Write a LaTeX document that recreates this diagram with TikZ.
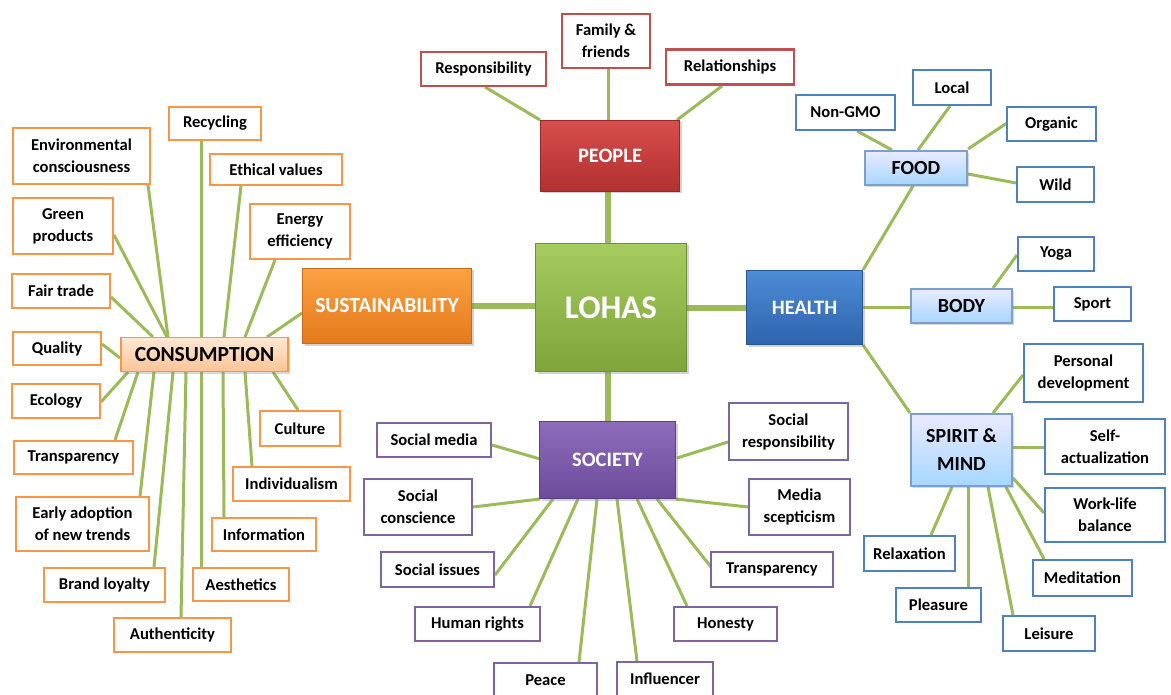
\documentclass[tikz,border=0pt]{standalone}
\usepackage{fontspec}
\setmainfont{Carlito}
\usetikzlibrary{backgrounds,shadows}

\definecolor{twiggreen}{HTML}{9BBB59}
\definecolor{leaforange}{HTML}{F79646}
\definecolor{leafred}{HTML}{C0504D}
\definecolor{leafpurple}{HTML}{8064A2}
\definecolor{leafblue}{HTML}{4F81BD}

\tikzset{
	leaf/.style={draw, line width=2.8pt, fill=white, text=black, align=center,
		inner sep=2pt, font=\fontsize{16.6}{22}\selectfont\bfseries},
	leafO/.style={leaf, draw=leaforange},
	leafR/.style={leaf, draw=leafred},
	leafP/.style={leaf, draw=leafpurple},
	leafB/.style={leaf, draw=leafblue},
	hub/.style={draw, line width=0.6pt, align=center, text=white,
		font=\fontsize{20.5}{24}\selectfont\bfseries,
		drop shadow={opacity=0.35, shadow xshift=2pt, shadow yshift=-2pt}},
	subhub/.style={draw, line width=1.2pt, align=center, text=black,
		font=\fontsize{20}{28}\selectfont\bfseries,
		drop shadow={opacity=0.3, shadow xshift=2pt, shadow yshift=-2pt}},
	bluehub/.style={subhub, draw=leafblue!75, top color=blue!8, bottom color=blue!45!cyan!35},
	twigline/.style={twiggreen, line width=3pt},
	trunkline/.style={twiggreen, line width=6pt}
}
\newcommand{\twig}[4]{\draw[twigline] ([shift={(#2)}]#1.center) -- ([shift={(#4)}]#3.center);}
\newcommand{\trunk}[4]{\draw[trunkline] ([shift={(#2)}]#1.center) -- ([shift={(#4)}]#3.center);}

\begin{document}
\begin{tikzpicture}[x=1pt,y=-1pt]
	\useasboundingbox (0,0) rectangle (1171,695);
	%Centre and main branches
	\node[hub, top color={rgb,255:red,166;green,204;blue,96}, bottom color={rgb,255:red,126;green,164;blue,58},
		draw={rgb,255:red,112;green,146;blue,52}, minimum width=151, minimum height=128,
		font=\fontsize{33}{36}\selectfont\bfseries] (lohas) at (611,307.5) {LOHAS};
	\node[hub, top color={rgb,255:red,214;green,78;blue,76}, bottom color={rgb,255:red,178;green,48;blue,48},
		draw={rgb,255:red,150;green,40;blue,40}, minimum width=139, minimum height=71] (people) at (610,156) {PEOPLE};
	\node[hub, top color={rgb,255:red,142;green,108;blue,188}, bottom color={rgb,255:red,108;green,76;blue,154},
		draw={rgb,255:red,92;green,64;blue,132}, minimum width=136, minimum height=77] (society) at (607.5,460) {SOCIETY};
	\node[hub, top color={rgb,255:red,252;green,162;blue,66}, bottom color={rgb,255:red,228;green,122;blue,28},
		draw={rgb,255:red,200;green,106;blue,24}, minimum width=169, minimum height=75,
		font=\fontsize{21.5}{24}\selectfont\bfseries] (sustain) at (387,306) {SUSTAINABILITY};
	\node[hub, top color={rgb,255:red,78;green,140;blue,214}, bottom color={rgb,255:red,46;green,100;blue,172},
		draw={rgb,255:red,40;green,86;blue,148}, minimum width=116, minimum height=74] (health) at (804.5,307.5) {HEALTH};
	%Second level
	\node[subhub, draw=leaforange, top color={rgb,255:red,254;green,232;blue,212}, bottom color={rgb,255:red,251;green,196;blue,150},
		minimum width=167, minimum height=34, font=\fontsize{21.5}{28}\selectfont\bfseries] (cons) at (204.5,354.5) {CONSUMPTION};
	\node[bluehub, minimum width=102, minimum height=34] (food) at (916,168) {FOOD};
	\node[bluehub, minimum width=101, minimum height=34] (body) at (961.5,306) {BODY};
	\node[bluehub, minimum width=101, minimum height=72] (spirit) at (961.5,450) {SPIRIT \&\\MIND};
	%Consumption leaves
	\node[leafO, minimum width=137, minimum height=56] (envc) at (81.5,156) {Environmental\\consciousness};
	\node[leafO, minimum width=92, minimum height=33] (recyc) at (215,123.5) {Recycling};
	\node[leafO, minimum width=132, minimum height=31] (ethic) at (276,169.5) {Ethical values};
	\node[leafO, minimum width=100, minimum height=55] (energy) at (300,231.5) {Energy\\efficiency};
	\node[leafO, minimum width=100, minimum height=56] (green) at (63,226) {Green\\products};
	\node[leafO, minimum width=98, minimum height=34] (fair) at (61,291) {Fair trade};
	\node[leafO, minimum width=88, minimum height=33] (quality) at (57,348.5) {Quality};
	\node[leafO, minimum width=88, minimum height=34] (ecology) at (56,401) {Ecology};
	\node[leafO, minimum width=119, minimum height=33] (transp) at (73.5,457.5) {Transparency};
	\node[leafO, minimum width=133, minimum height=54] (early) at (82.5,524) {Early adoption\\of new trends};
	\node[leafO, minimum width=121, minimum height=34] (brand) at (104.5,585) {Brand loyalty};
	\node[leafO, minimum width=117, minimum height=34] (authent) at (172.5,635) {Authenticity};
	\node[leafO, minimum width=96, minimum height=33] (aesth) at (241,584.5) {Aesthetics};
	\node[leafO, minimum width=104, minimum height=33] (info) at (264,534.5) {Information};
	\node[leafO, minimum width=117, minimum height=34] (indiv) at (291.5,484) {Individualism};
	\node[leafO, minimum width=80, minimum height=35] (culture) at (300,428.5) {Culture};
	%People leaves
	\node[leafR, minimum width=125, minimum height=34] (respons) at (483.5,69) {Responsibility};
	\node[leafR, minimum width=88, minimum height=54] (family) at (606,41) {Family \&\\friends};
	\node[leafR, minimum width=128, minimum height=35] (relat) at (730,67) {Relationships};
	%Society leaves
	\node[leafP, minimum width=114, minimum height=34] (socmedia) at (434,440) {Social media};
	\node[leafP, minimum width=119, minimum height=57] (socresp) at (788.5,431.5) {Social\\responsibility};
	\node[leafP, minimum width=108, minimum height=56] (socconsc) at (418,507) {Social\\conscience};
	\node[leafP, minimum width=101, minimum height=56] (mediasc) at (799.5,507) {Media\\scepticism};
	\node[leafP, minimum width=113, minimum height=35] (socissues) at (437.5,569.5) {Social issues};
	\node[leafP, minimum width=122, minimum height=35] (soctransp) at (772,569.5) {Transparency};
	\node[leafP, minimum width=125, minimum height=34] (human) at (477.5,624) {Human rights};
	\node[leafP, minimum width=103, minimum height=34] (honesty) at (725.5,624) {Honesty};
	\node[leafP, minimum width=103, minimum height=34] (peace) at (545.5,680) {Peace};
	\node[leafP, minimum width=96, minimum height=34] (influ) at (665,679) {Influencer};
	%Health leaves
	\node[leafB, minimum width=78, minimum height=35] (local) at (952,87.5) {Local};
	\node[leafB, minimum width=99, minimum height=35] (nongmo) at (845.5,112.5) {Non-GMO};
	\node[leafB, minimum width=89, minimum height=34] (organic) at (1051.5,124) {Organic};
	\node[leafB, minimum width=77, minimum height=35] (wild) at (1055.5,184.5) {Wild};
	\node[leafB, minimum width=76, minimum height=34] (yoga) at (1056,254) {Yoga};
	\node[leafB, minimum width=77, minimum height=34] (sport) at (1092.5,304) {Sport};
	\node[leafB, minimum width=119, minimum height=58] (persdev) at (1083.5,373) {Personal\\development};
	\node[leafB, minimum width=120, minimum height=55] (selfact) at (1105,446.5) {Self-\\actualization};
	\node[leafB, minimum width=120, minimum height=54] (worklife) at (1105,515) {Work-life\\balance};
	\node[leafB, minimum width=99, minimum height=36] (medit) at (1082.5,578) {Meditation};
	\node[leafB, minimum width=92, minimum height=35] (leisure) at (1049,633.5) {Leisure};
	\node[leafB, minimum width=85, minimum height=34] (pleasure) at (938.5,605) {Pleasure};
	\node[leafB, minimum width=91, minimum height=35] (relax) at (909.5,553.5) {Relaxation};
	%Connectors, behind the boxes
	\begin{pgfonlayer}{background}
		\fill[white] (0,0) rectangle (1171,695);
		\trunk{lohas}{-3,-64.5}{people}{-2,36}
		\trunk{lohas}{-3,64.5}{society}{0.5,-39}
		\trunk{lohas}{-76,-1.5}{sustain}{85,0}
		\trunk{lohas}{76,0.5}{health}{-58.5,0.5}
		\twig{sustain}{-85,7}{cons}{62.5,-17.5}
		\twig{health}{58.5,-37.5}{food}{-3,18}
		\twig{health}{58.5,0.5}{body}{-51.5,2}
		\twig{health}{58.5,37.5}{spirit}{-51.5,-37}
		%consumption
		\twig{cons}{-36.5,-17.5}{envc}{66.5,29}
		\twig{cons}{-3.5,-17.5}{recyc}{-14,17.5}
		\twig{cons}{19.5,-17.5}{ethic}{-35,16.5}
		\twig{cons}{40.5,-17.5}{energy}{-25,28.5}
		\twig{cons}{-37.5,-17.5}{green}{51,9}
		\twig{cons}{-51.5,-17.5}{fair}{50,6}
		\twig{cons}{-84.5,3.5}{quality}{45,-4.5}
		\twig{cons}{-76.5,17.5}{ecology}{45,1}
		\twig{cons}{-66.5,17.5}{transp}{41.5,-17.5}
		\twig{cons}{-50.5,17.5}{early}{57.5,-28}
		\twig{cons}{-31.5,17.5}{brand}{49.5,-18}
		\twig{cons}{-18.5,17.5}{authent}{8.5,-18}
		\twig{cons}{-3.5,17.5}{aesth}{-40,-17.5}
		\twig{cons}{18.5,17.5}{info}{-40,-17.5}
		\twig{cons}{40.5,17.5}{indiv}{-39.5,-18}
		\twig{cons}{68.5,17.5}{culture}{-2,-18.5}
		%people
		\twig{people}{-70,-36}{respons}{1.5,18}
		\twig{people}{-2,-36}{family}{2,28}
		\twig{people}{67,-36}{relat}{-8,19}
		%society
		\twig{society}{-67.5,-1}{socmedia}{58,5}
		\twig{society}{69.5,-2}{socresp}{-60.5,10.5}
		\twig{society}{-67.5,39}{socconsc}{55,0}
		\twig{society}{68.5,39}{mediasc}{-51.5,0}
		\twig{society}{-54.5,39}{socissues}{57.5,5.5}
		\twig{society}{49.5,39}{soctransp}{-61,-2.5}
		\twig{society}{-29.5,39}{human}{52.5,-18}
		\twig{society}{29.5,39}{honesty}{-38.5,-18}
		\twig{society}{-10.5,39}{peace}{33.5,-18}
		\twig{society}{9.5,39}{influ}{-28,-18}
		%food, body, spirit
		\twig{food}{2,-18}{local}{-2,18.5}
		\twig{food}{-24,-18}{nongmo}{11.5,18.5}
		\twig{food}{52,-19}{organic}{-44.5,-1}
		\twig{food}{52,6}{wild}{-39.5,-1.5}
		\twig{body}{31.5,-18}{yoga}{-39,1}
		\twig{body}{51.5,2}{sport}{-39.5,4}
		\twig{spirit}{31.5,-37}{persdev}{-60.5,2}
		\twig{spirit}{51.5,-3}{selfact}{-61,0.5}
		\twig{spirit}{51.5,28}{worklife}{-61,-2}
		\twig{spirit}{44.5,37}{medit}{-38.5,-19}
		\twig{spirit}{26.5,37}{leisure}{-36,-18.5}
		\twig{spirit}{6.5,37}{pleasure}{29.5,-18}
		\twig{spirit}{-9.5,37}{relax}{21.5,-18.5}
	\end{pgfonlayer}
\end{tikzpicture}
\end{document}
